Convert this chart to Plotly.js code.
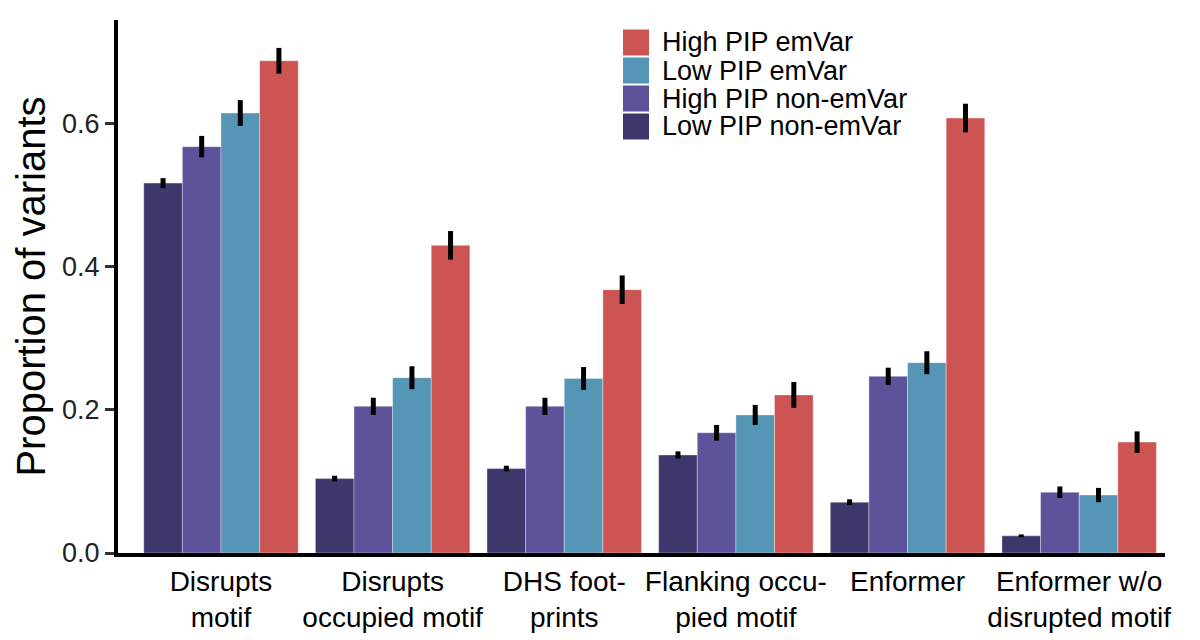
<!DOCTYPE html>
<html>
<head>
<meta charset="utf-8">
<script src="https://cdn.plot.ly/plotly-3.0.1.min.js"></script>
<style>
  body { margin: 0; background: #fff; }
  #chart { width: 1200px; height: 640px; }
</style>
</head>
<body>
<div id="chart"></div>
<script>
const categories = [
  'Disrupts<br>motif',
  'Disrupts<br>occupied motif',
  'DHS foot-<br>prints',
  'Flanking occu-<br>pied motif',
  'Enformer',
  'Enformer w/o<br>disrupted motif'
];

const lowNonEmVar = [0.517, 0.104, 0.118, 0.137, 0.071, 0.024];
const lowNonEmVarErr = [0.007, 0.004, 0.004, 0.005, 0.004, 0.002];

const highNonEmVar = [0.568, 0.205, 0.205, 0.168, 0.247, 0.085];
const highNonEmVarErr = [0.015, 0.012, 0.012, 0.011, 0.012, 0.008];

const lowEmVar = [0.615, 0.245, 0.244, 0.193, 0.266, 0.081];
const lowEmVarErr = [0.018, 0.016, 0.016, 0.014, 0.016, 0.010];

const highEmVar = [0.688, 0.430, 0.368, 0.221, 0.608, 0.155];
const highEmVarErr = [0.018, 0.020, 0.020, 0.018, 0.020, 0.015];

const seriesNames = ['Low PIP non-emVar', 'High PIP non-emVar', 'Low PIP emVar', 'High PIP emVar'];
const seriesColors = ['#3d386b', '#5c539b', '#5595b5', '#cc5553'];
const seriesValues = [lowNonEmVar, highNonEmVar, lowEmVar, highEmVar];
const seriesErrors = [lowNonEmVarErr, highNonEmVarErr, lowEmVarErr, highEmVarErr];

const traces = seriesNames.map((name, i) => ({
  x: categories,
  y: seriesValues[i],
  name: name,
  type: 'bar',
  showlegend: false,
  marker: {
    color: seriesColors[i],
    line: {color: 'rgba(255,255,255,0.35)', width: 1}
  },
  error_y: {
    type: 'data',
    array: seriesErrors[i],
    visible: true,
    color: '#000',
    thickness: 5,
    width: 0
  }
}));

// legend drawn as swatches + labels, top entry = last series (ggplot order)
const plotLeft = 118, plotRight = 1165, plotTop = 20, plotBottom = 553;
const toPx = px => (px - plotLeft) / (plotRight - plotLeft);
const toPy = py => (plotBottom - py) / (plotBottom - plotTop);
const shapes = [];
const annotations = [];
seriesNames.slice().reverse().forEach((name, k) => {
  const color = seriesColors[seriesNames.length - 1 - k];
  const cy = 42.5 + k * 28;
  shapes.push({
    type: 'rect', xref: 'paper', yref: 'paper',
    x0: toPx(623), x1: toPx(649), y0: toPy(cy + 13), y1: toPy(cy - 13),
    fillcolor: color, line: {width: 0}
  });
  annotations.push({
    xref: 'paper', yref: 'paper', x: toPx(660), y: toPy(cy),
    xanchor: 'left', yanchor: 'middle', showarrow: false,
    text: name, font: {size: 27, color: '#000'}
  });
});

const layout = {
  width: 1200,
  height: 640,
  margin: {l: plotLeft, r: 1200 - plotRight, t: plotTop, b: 640 - plotBottom},
  paper_bgcolor: '#fff',
  plot_bgcolor: '#fff',
  font: {family: 'Liberation Sans, Arial, sans-serif', color: '#000'},
  barmode: 'group',
  bargap: 0.1,
  bargroupgap: 0,
  showlegend: false,
  shapes: shapes,
  annotations: annotations,
  xaxis: {
    range: [-0.6, 5.5],
    showline: true,
    linecolor: '#000',
    linewidth: 4,
    ticks: '',
    showgrid: false,
    zeroline: false,
    tickfont: {size: 28, color: '#000'},
    fixedrange: true
  },
  yaxis: {
    title: {text: 'Proportion of variants', font: {size: 40, color: '#000'}, standoff: 5},
    range: [0, 0.745],
    tickvals: [0, 0.2, 0.4, 0.6],
    tickformat: '.1f',
    showline: true,
    linecolor: '#000',
    linewidth: 4,
    ticks: 'outside',
    ticklen: 9,
    tickwidth: 3,
    tickcolor: '#333',
    showgrid: false,
    zeroline: false,
    tickfont: {size: 27, color: '#222'},
    fixedrange: true
  }
};

Plotly.newPlot('chart', traces, layout, {staticPlot: true});
</script>
</body>
</html>
